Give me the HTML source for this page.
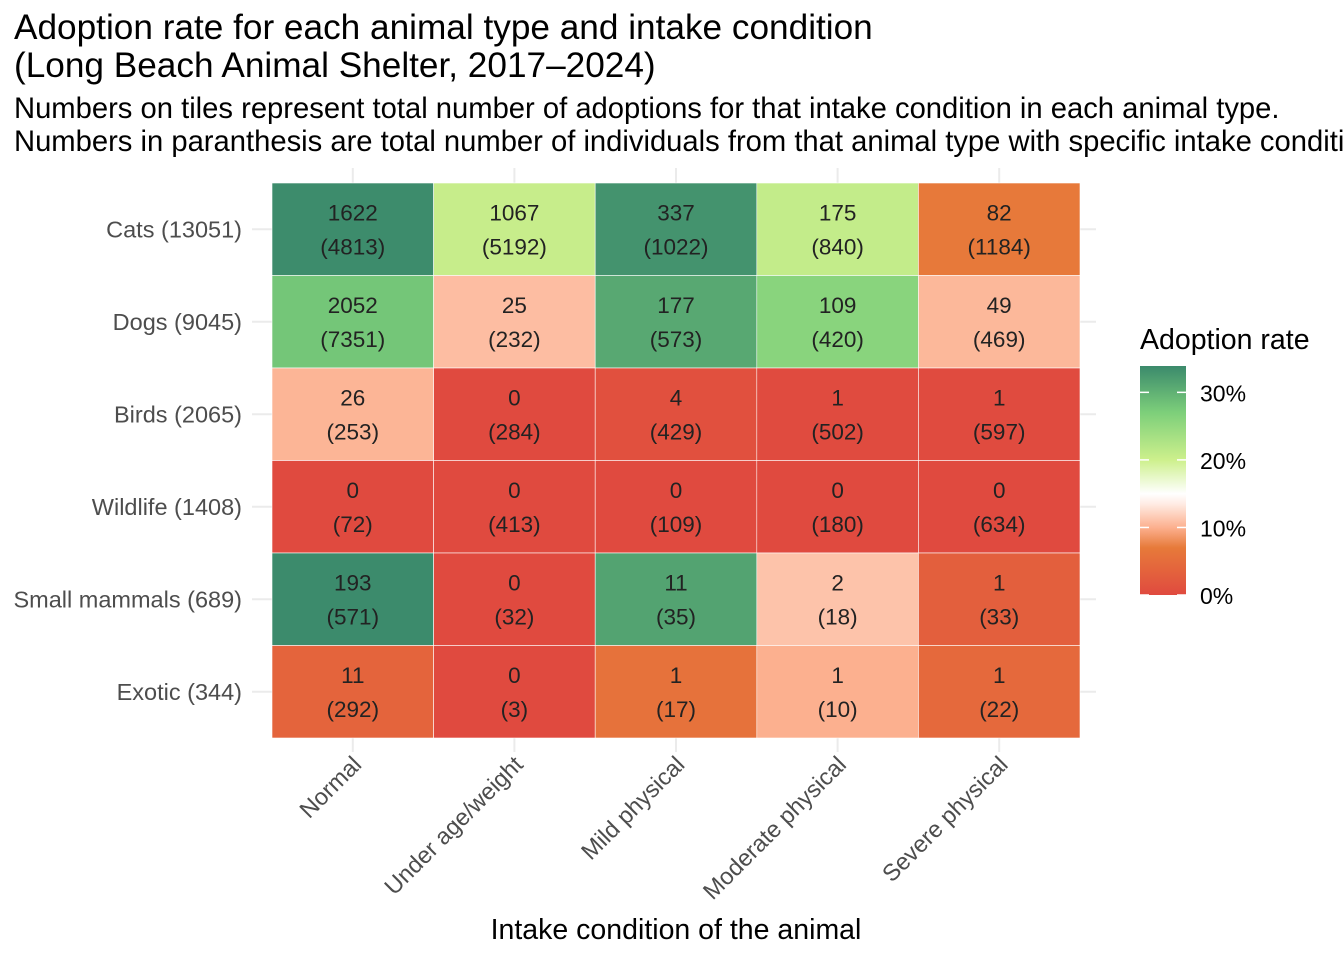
<!DOCTYPE html>
<html><head><meta charset="utf-8"><style>
body{margin:0;background:#fff;font-family:"Liberation Sans",Arial,sans-serif;overflow:hidden;}
svg text{font-family:"Liberation Sans",Arial,sans-serif;}
</style></head><body>
<svg id="chart" width="1344" height="960" xmlns="http://www.w3.org/2000/svg">
<defs>
<linearGradient id="lg" x1="0" y1="1" x2="0" y2="0"></linearGradient>
</defs>
<text x="14" y="39" font-size="35.2" fill="#000">Adoption rate for each animal type and intake condition</text>
<text x="14" y="77" font-size="35.2" fill="#000">(Long Beach Animal Shelter, 2017–2024)</text>
<text x="14" y="118" font-size="29.2" fill="#000">Numbers on tiles represent total number of adoptions for that intake condition in each animal type.</text>
<text x="14" y="151" font-size="29.2" fill="#000">Numbers in paranthesis are total number of individuals from that animal type with specific intake condition.</text>
<g id="grid"></g>
<g id="tiles"></g>
<g id="axes"></g>
<text x="676" y="939" font-size="28.5" text-anchor="middle" fill="#000">Intake condition of the animal</text>
<g id="legend"></g>
</svg>
<script>
const rows = ["Cats (13051)","Dogs (9045)","Birds (2065)","Wildlife (1408)","Small mammals (689)","Exotic (344)"];
const cols = ["Normal","Under age/weight","Mild physical","Moderate physical","Severe physical"];
const adopted = [
 [1622,1067,337,175,82],
 [2052,25,177,109,49],
 [26,0,4,1,1],
 [0,0,0,0,0],
 [193,0,11,2,1],
 [11,0,1,1,1]];
const totals = [
 [4813,5192,1022,840,1184],
 [7351,232,573,420,469],
 [253,284,429,502,597],
 [72,413,109,180,634],
 [571,32,35,18,33],
 [292,3,17,10,22]];
const legendTicks = [0,10,20,30];

const NS="http://www.w3.org/2000/svg";
const X0=272,X1=1080,Y0=183,Y1=738;
const cw=(X1-X0)/cols.length, rh=(Y1-Y0)/rows.length;
const xPos=i=>X0+i*cw, yPos=j=>Y0+j*rh;
const maxRate=33.9;
const stops=[[0,[224,74,63]],[7,[231,122,58]],[10,[252,176,143]],[13.5,[255,236,228]],[15,[255,255,255]],[20,[205,240,140]],[27,[125,207,122]],[33.9,[59,138,108]]];
function color(p){
 if(p<=0)return "rgb(224,74,63)";
 for(let k=1;k<stops.length;k++){if(p<=stops[k][0]||k==stops.length-1){const a=stops[k-1],b=stops[k];let t=Math.min(1,(p-a[0])/(b[0]-a[0]));const c=a[1].map((v,i)=>Math.round(v+(b[1][i]-v)*t));return `rgb(${c})`;}}
}
function el(tag,attrs,parent,txt){const e=document.createElementNS(NS,tag);for(const k in attrs)e.setAttribute(k,attrs[k]);if(txt!=null)e.textContent=txt;parent.appendChild(e);return e;}
const grid=document.getElementById('grid'),tiles=document.getElementById('tiles'),axes=document.getElementById('axes'),legend=document.getElementById('legend');
rows.forEach((r,j)=>{const y=yPos(j)+rh/2;const l=el('line',{x1:252,x2:1096,y1:y,y2:y,stroke:'#ebebeb','stroke-width':2},grid);


const t=el('text',{x:242,y:y+8,'font-size':23.5,'text-anchor':'end',fill:'#4d4d4d'},axes,r);

});
cols.forEach((c,i)=>{const x=xPos(i)+cw/2;const l=el('line',{x1:x,x2:x,y1:168,y2:752,stroke:'#ebebeb','stroke-width':2},grid);


const t=el('text',{x:0,y:0,'font-size':23.5,'text-anchor':'end',fill:'#4d4d4d',transform:`translate(${x+10},${766}) rotate(-45)`},axes,c);

});
rows.forEach((r,j)=>cols.forEach((c,i)=>{
 const p=100*adopted[j][i]/totals[j][i];
 const g=el('g',{},tiles);
 
 
 el('rect',{x:xPos(i),y:yPos(j),width:cw,height:rh,fill:color(p),stroke:'#fff','stroke-width':0.6},g);
 const cx=xPos(i)+cw/2,cy=yPos(j)+rh/2;
 el('text',{x:cx,y:cy-9,'font-size':22.5,'text-anchor':'middle',fill:'#222'},g,adopted[j][i]);
 el('text',{x:cx,y:cy+25,'font-size':22.5,'text-anchor':'middle',fill:'#222'},g,'('+totals[j][i]+')');
}));
const lg=document.getElementById('lg');
stops.forEach(s=>el('stop',{offset:(s[0]/maxRate),'stop-color':`rgb(${s[1]})`},lg));
const LT=366,LB=595,lx=1140,lw=46;
const ly=v=>LB-(v/maxRate)*(LB-LT);
const lt=el('text',{x:1140,y:349,'font-size':28.5,fill:'#000'},legend,'Adoption rate');


const bar=el('rect',{x:lx,y:LT,width:lw,height:LB-LT,fill:'url(#lg)'},legend);


legendTicks.forEach(v=>{const y=ly(v);
 el('line',{x1:lx,x2:lx+9,y1:y,y2:y,stroke:'#fff','stroke-width':1.5},legend);
 el('line',{x1:lx+lw-9,x2:lx+lw,y1:y,y2:y,stroke:'#fff','stroke-width':1.5},legend);
 const t=el('text',{x:1200,y:y+9,'font-size':23,fill:'#000'},legend,v+'%');
 
 });
</script>
</body></html>
